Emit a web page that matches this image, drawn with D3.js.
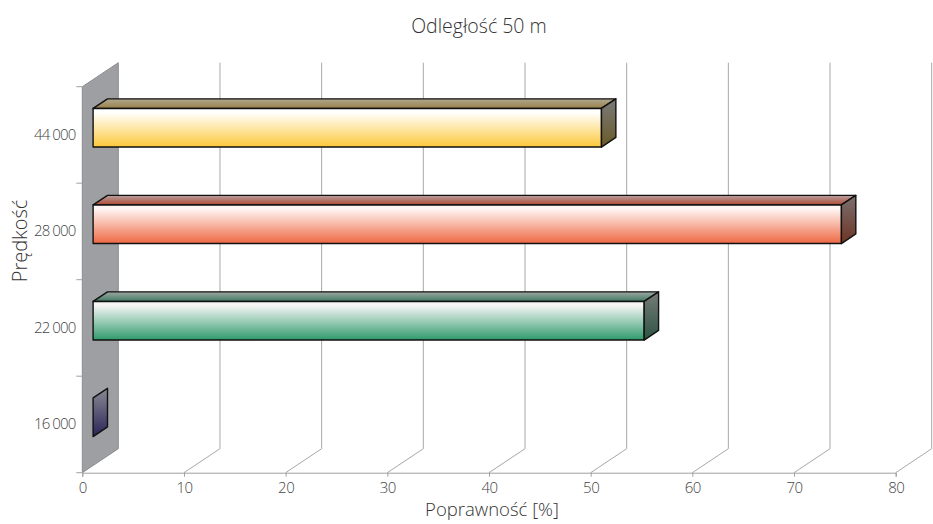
<!DOCTYPE html>
<html>
<head>
<meta charset="utf-8">
<script src="https://cdn.jsdelivr.net/npm/d3@7"></script>
<style>
  html, body { margin: 0; padding: 0; background: #fff; }
  svg text { font-family: "Open Sans", "Noto Sans", sans-serif; font-weight: 300; fill: #333; }
</style>
</head>
<body>
<svg id="chart" width="933" height="524"></svg>
<script>
// Speeds (top to bottom) and recognition accuracy at 50 m
const categories = ["44 000", "28 000", "22 000", "16 000"];
const values = [50, 73.6, 54.2, 0];
const xTicks = [0, 10, 20, 30, 40, 50, 60, 70, 80];
const title = "Odległość 50 m";
const xTitle = "Poprawność [%]";
const yTitle = "Prędkość";

// Bar palettes: front face bottom colour, top face, side face
const palettes = [
  { front: "#fcc83a", frontTop: "#ffffff", topBack: "#b0a890", topFront: "#9a8048", sideTop: "#7a7a7a", sideBottom: "#6a5a28" },
  { front: "#ee6842", frontTop: "#fff6f4", topBack: "#b8a0a0", topFront: "#b04a34", sideTop: "#7a7070", sideBottom: "#6e3424" },
  { front: "#2f9a6c", frontTop: "#f6f6f6", topBack: "#a0a8a4", topFront: "#3e7a62", sideTop: "#777b79", sideBottom: "#2c5444" },
  { front: "#2a2458", frontTop: "#9898a0", topBack: "#a0a0a8", topFront: "#4a4870", sideTop: "#8a8a94", sideBottom: "#2a2458" }
];

const svg = d3.select("#chart");

// Front plane geometry and depth offset of the 3D box
const x = d3.scaleLinear().domain([0, 80]).range([82.3, 895.7]);
const y = d3.scaleBand().domain(categories).range([86.7, 472.7]).paddingInner(0).paddingOuter(0);
const depth = { dx: 36, dy: -24 };
const barDepth = [0.3, 0.7];   // fraction of the depth occupied by bars
const barThick = 0.4;          // fraction of band height

const y0 = y.range()[1];
const yTop = y.range()[0];

const defs = svg.append("defs");

// Gridlines: floor diagonals and back wall verticals
const grid = svg.append("g").attr("stroke", "#a8a8a8").attr("stroke-width", 1).attr("fill", "none");
xTicks.forEach(t => {
  const px = x(t);
  if (t > 0) {
    grid.append("line").attr("x1", px).attr("y1", y0).attr("x2", px + depth.dx).attr("y2", y0 + depth.dy);
    grid.append("line").attr("x1", px + depth.dx).attr("y1", y0 + depth.dy).attr("x2", px + depth.dx).attr("y2", yTop + depth.dy);
  }
});

// Left side wall
svg.append("path")
  .attr("d", d3.line()([
    [x(0), yTop], [x(0) + depth.dx, yTop + depth.dy],
    [x(0) + depth.dx, y0 + depth.dy], [x(0), y0]
  ]) + "Z")
  .attr("fill", "#9d9fa3")
  .attr("stroke", "#8c8e92")
  .attr("stroke-width", 1);

// X axis along the floor front edge
const xAxis = svg.append("g").attr("transform", `translate(0,${y0})`)
  .call(d3.axisBottom(x).tickValues(xTicks).tickSize(4).tickPadding(6).tickFormat(d3.format("d")));
xAxis.select(".domain").attr("stroke", "#a0a0a0");
xAxis.selectAll(".tick line").attr("stroke", "#a0a0a0");
xAxis.selectAll(".tick text").style("font-size", "15px").attr("letter-spacing", -0.5)
  .style("fill", "#444");

// Y axis ticks at band boundaries, labels at band centres
const yAxisG = svg.append("g");
const boundaries = categories.map(c => y(c)).concat([y0]);
boundaries.forEach(b => {
  yAxisG.append("line").attr("x1", x(0) - 6).attr("x2", x(0)).attr("y1", b).attr("y2", b)
    .attr("stroke", "#a0a0a0");
});
categories.forEach(c => {
  yAxisG.append("text")
    .attr("x", x(0) - 7)
    .attr("y", y(c) + y.bandwidth() / 2 + 1)
    .attr("text-anchor", "end")
    .attr("dominant-baseline", "middle")
    .attr("font-size", 15)
    .attr("letter-spacing", -0.9)
    .style("fill", "#444")
    .text(c);
});

// 3D bars
categories.forEach((c, i) => {
  const p = palettes[i];
  const v = values[i];
  const fx = depth.dx * barDepth[0], fy = depth.dy * barDepth[0];
  const bx = depth.dx * barDepth[1], by = depth.dy * barDepth[1];
  const cy = y(c) + y.bandwidth() / 2;
  const h = y.bandwidth() * barThick;
  const x0 = x(0) + fx, x1 = x(v) + fx;
  const t = cy - h / 2 + fy, b = cy + h / 2 + fy;
  const ddx = bx - fx, ddy = by - fy;

  const gFront = defs.append("linearGradient").attr("id", "front" + i).attr("x1", 0).attr("y1", 0).attr("x2", 0).attr("y2", 1);
  gFront.append("stop").attr("offset", "0.1").attr("stop-color", p.frontTop);
  gFront.append("stop").attr("offset", "1").attr("stop-color", p.front);
  const gTop = defs.append("linearGradient").attr("id", "top" + i).attr("x1", 0).attr("y1", 0).attr("x2", 0).attr("y2", 1);
  gTop.append("stop").attr("offset", "0").attr("stop-color", p.topBack);
  gTop.append("stop").attr("offset", "1").attr("stop-color", p.topFront);
  const gSide = defs.append("linearGradient").attr("id", "side" + i).attr("x1", 0).attr("y1", 0).attr("x2", 0).attr("y2", 1);
  gSide.append("stop").attr("offset", "0").attr("stop-color", p.sideTop);
  gSide.append("stop").attr("offset", "1").attr("stop-color", p.sideBottom);

  const g = svg.append("g").attr("stroke", "#111").attr("stroke-width", 1.4).attr("stroke-linejoin", "round");
  if (x1 > x0) {
    g.append("path").attr("fill", `url(#top${i})`)
      .attr("d", d3.line()([[x0, t], [x0 + ddx, t + ddy], [x1 + ddx, t + ddy], [x1, t]]) + "Z");
    g.append("path").attr("fill", `url(#front${i})`)
      .attr("d", d3.line()([[x0, t], [x1, t], [x1, b], [x0, b]]) + "Z");
  }
  g.append("path").attr("fill", `url(#side${i})`)
    .attr("d", d3.line()([[x1, t], [x1 + ddx, t + ddy], [x1 + ddx, b + ddy], [x1, b]]) + "Z");
});

// Titles
svg.append("text").attr("x", 479).attr("y", 33).attr("text-anchor", "middle")
  .attr("font-size", 19.5).text(title);
svg.append("text").attr("x", 492).attr("y", 516).attr("text-anchor", "middle")
  .attr("font-size", 18.5).text(xTitle);
svg.append("text").attr("transform", "translate(27,241) rotate(-90)").attr("text-anchor", "middle")
  .attr("font-size", 20).text(yTitle);
</script>
</body>
</html>
